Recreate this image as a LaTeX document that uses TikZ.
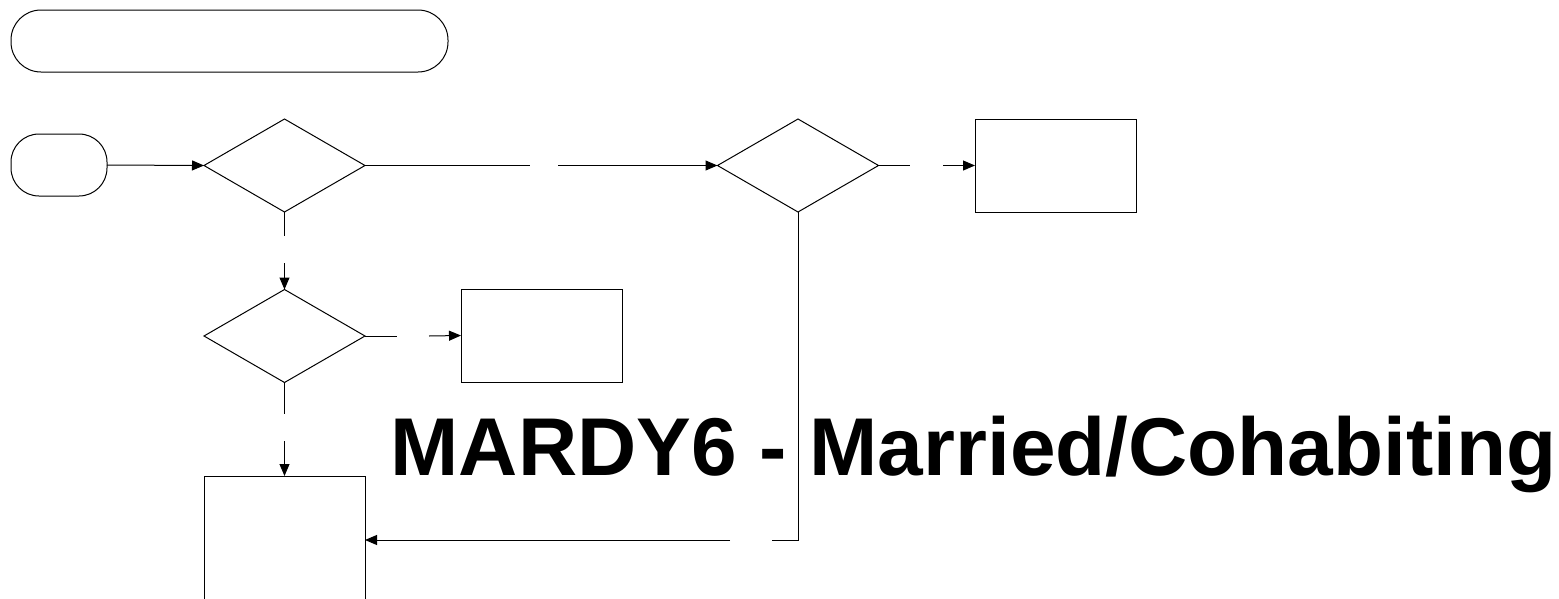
\documentclass[tikz,border=0pt]{standalone}
\usepackage{fontspec}
\setmainfont{Liberation Sans}
\usetikzlibrary{shapes.geometric,arrows.meta}
\begin{document}
\begin{tikzpicture}[x=1pt,y=-1pt,line width=1pt,
  term/.style={draw,rectangle,rounded corners=30pt,minimum height=62pt,inner sep=0pt,outer sep=0pt},
  decision/.style={draw,diamond,minimum width=161pt,minimum height=93pt,inner sep=0pt,outer sep=0pt},
  procbox/.style={draw,rectangle,minimum width=161pt,minimum height=93pt,inner sep=0pt,outer sep=0pt},
  flow/.style={-{Triangle[length=12pt,width=10pt]}},
  title/.style={font=\bfseries\fontsize{82}{82}\selectfont,inner sep=0pt}]
\useasboundingbox (0,0) rectangle (1559,598);
\clip (0,0) rectangle (1559,598);
% nodes
\node[term,minimum width=437pt] (hdr) at (229.5,41) {};
\node[term,minimum width=96pt,rounded corners=28pt] (start) at (59,165) {};
\node[decision] (d1) at (284.5,165.5) {};
\node[decision] (d2) at (798,165.5) {};
\node[procbox] (b1) at (1055.5,165.5) {};
\node[decision] (d3) at (284.5,336) {};
\node[procbox] (b2) at (541.5,335.5) {};
\node[procbox,minimum height=240pt] (b3) at (284.5,596) {};
\node[title,anchor=base west] (ttl) at (390,475) {MARDY6 - Married/Cohabiting};
% gap coordinates
\coordinate (g1a) at (530,165.5);
\coordinate (g1b) at (558,165.5);
\coordinate (g2a) at (910,165.5);
\coordinate (g2b) at (943,165.5);
\coordinate (g3a) at (284.5,236);
\coordinate (g3b) at (284.5,263);
\coordinate (g4a) at (397,336);
\coordinate (g4b) at (429,336);
\coordinate (g5a) at (284.5,414);
\coordinate (g5b) at (284.5,441);
\coordinate (c6) at (798,540);
\coordinate (g6a) at (772,540);
\coordinate (g6b) at (730,540);
% connectors
\draw[flow] (start.east) -- (d1.west);
\draw (d1.east) -- (g1a);
\draw[flow] (g1b) -- (d2.west);
\draw (d2.east) -- (g2a);
\draw[flow] (g2b) -- (b1.west);
\draw (d1.south) -- (g3a);
\draw[flow] (g3b) -- (d3.north);
\draw (d3.east) -- (g4a);
\draw[flow] (g4b) -- (b2.west);
\draw (d3.south) -- (g5a);
\draw[flow] (g5b) -- (b3.north);
\draw (d2.south) -- (c6) -- (g6a);
\draw[flow] (g6b) -- (g6b -| b3.east);
\end{tikzpicture}
\end{document}
